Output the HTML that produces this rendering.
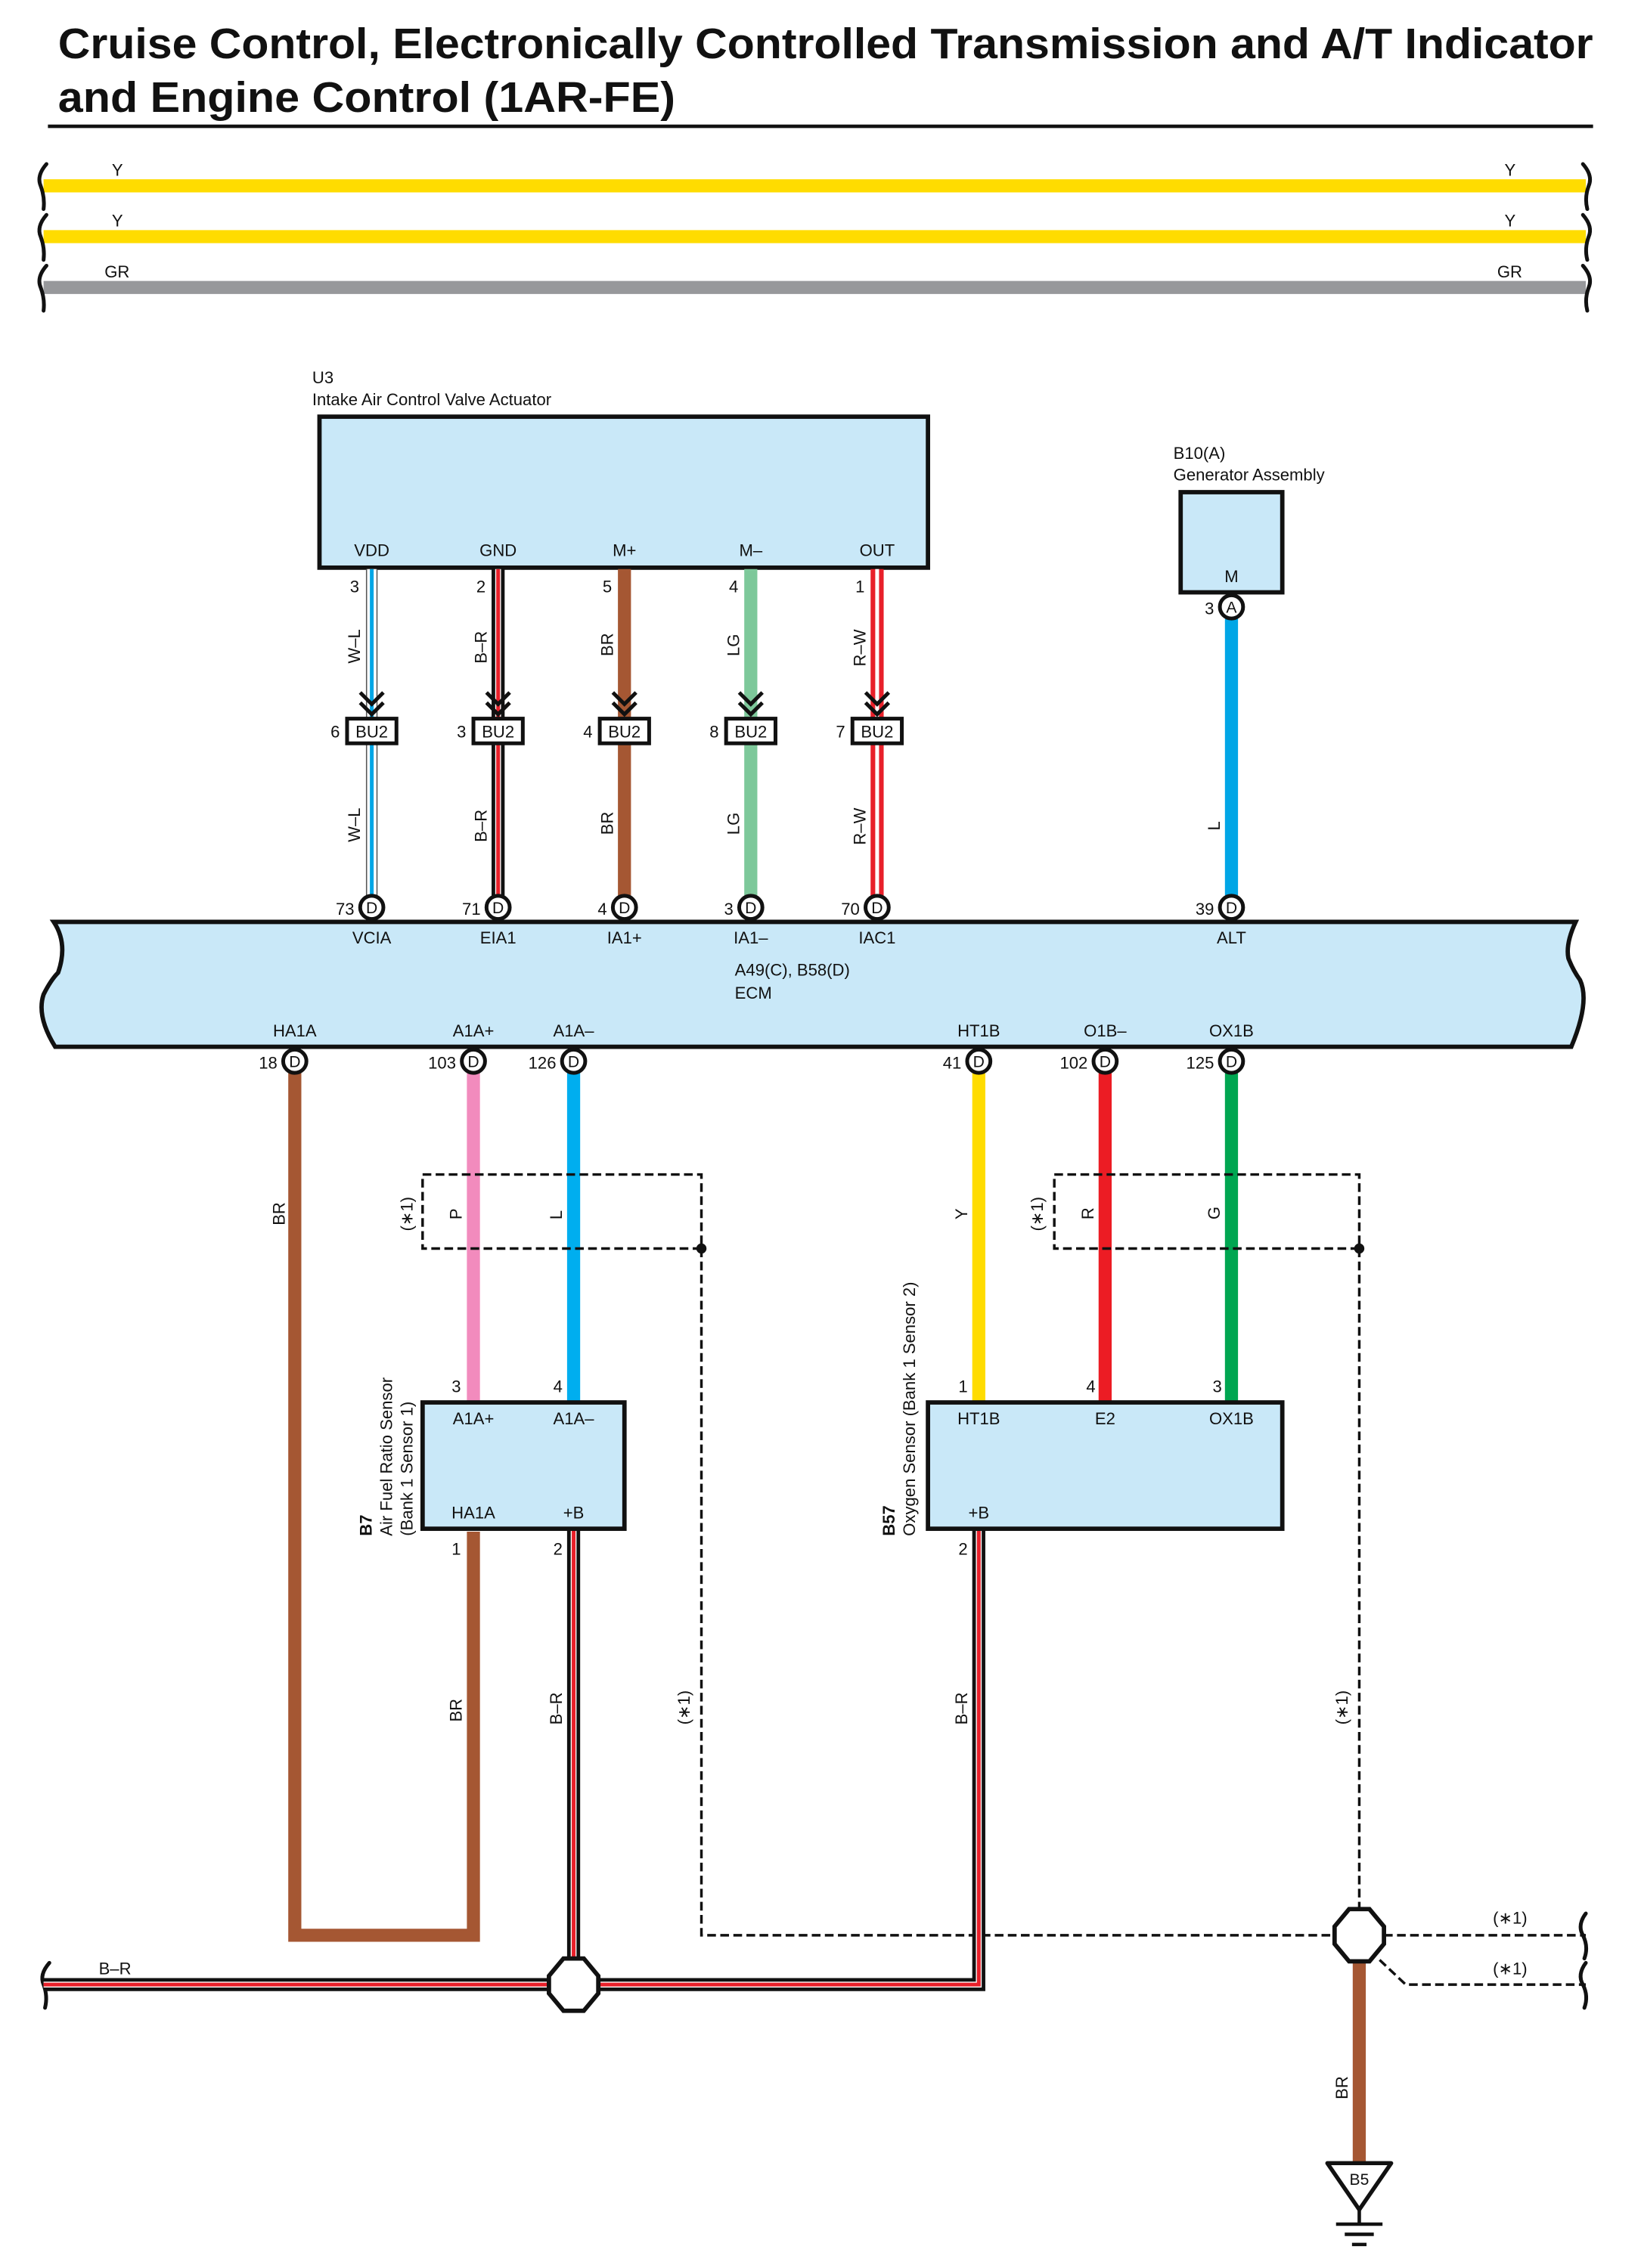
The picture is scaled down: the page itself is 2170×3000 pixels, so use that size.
<!DOCTYPE html>
<html><head><meta charset="utf-8"><style>
html,body{margin:0;padding:0;background:#fff}
svg{display:block}
text{font-family:"Liberation Sans",sans-serif;fill:#111}
</style></head><body>
<svg width="2170" height="3000" viewBox="0 0 1130 1562.2" xmlns="http://www.w3.org/2000/svg">
<defs>
<g id="chev"><path d="M-8,-12 L0,-4 L8,-12 M-8,-5 L0,3 L8,-5" fill="none" stroke="#111" stroke-width="2.6"/></g>
</defs>
<!-- title -->
<text x="40" y="40" font-size="29.5" font-weight="bold" textLength="1057" lengthAdjust="spacingAndGlyphs">Cruise Control, Electronically Controlled Transmission and A/T Indicator</text>
<text x="40" y="77" font-size="29.5" font-weight="bold" textLength="425" lengthAdjust="spacingAndGlyphs">and Engine Control (1AR-FE)</text>
<line x1="33" y1="87" x2="1097" y2="87" stroke="#111" stroke-width="2.4"/>

<!-- top wires -->
<g stroke-width="9">
<line x1="30" y1="128" x2="1092" y2="128" stroke="#ffdc00"/>
<line x1="30" y1="163" x2="1092" y2="163" stroke="#ffdc00"/>
<line x1="30" y1="198" x2="1092" y2="198" stroke="#97989b"/>
</g>
<g font-size="11.5"><text x="77" y="121">Y</text><text x="1036" y="121">Y</text>
<text x="77" y="156">Y</text><text x="1036" y="156">Y</text>
<text x="72" y="191">GR</text><text x="1031" y="191">GR</text></g>
<g fill="none" stroke="#111" stroke-width="2.6" stroke-linecap="round">
<path d="M32,113 Q25,121 28,128 Q31,136 30,144"/>
<path d="M32,148 Q25,156 28,163 Q31,171 30,179"/>
<path d="M32,183 Q25,191 28,198 Q31,206 30,214"/>
<path d="M1090,113 Q1097,121 1094,128 Q1091,136 1093,144"/>
<path d="M1090,148 Q1097,156 1094,163 Q1091,171 1093,179"/>
<path d="M1090,183 Q1097,191 1094,198 Q1091,206 1093,214"/>
</g>

<!-- U3 -->
<text x="215" y="264" font-size="11.5">U3</text>
<text x="215" y="279" font-size="11.5">Intake Air Control Valve Actuator</text>
<rect x="220" y="287" width="419" height="104" fill="#c9e8f8" stroke="#111" stroke-width="3"/>
<g font-size="11.5" text-anchor="middle">
<text x="256" y="383">VDD</text><text x="343" y="383">GND</text><text x="430" y="383">M+</text><text x="517" y="383">M–</text><text x="604" y="383">OUT</text>
</g>

<!-- U3 wires -->
<g>
<line x1="256" y1="392" x2="256" y2="618" stroke="#555" stroke-width="8"/>
<line x1="256" y1="392" x2="256" y2="618" stroke="#fff" stroke-width="6.4"/>
<line x1="256" y1="392" x2="256" y2="618" stroke="#00a6e6" stroke-width="2.6"/>
</g>
<g>
<line x1="343" y1="392" x2="343" y2="618" stroke="#111" stroke-width="9"/>
<line x1="343" y1="392" x2="343" y2="618" stroke="#fff" stroke-width="4"/>
<line x1="343" y1="392" x2="343" y2="618" stroke="#e8202a" stroke-width="2.6"/>
</g>
<line x1="430" y1="392" x2="430" y2="618" stroke="#a55733" stroke-width="9"/>
<line x1="517" y1="392" x2="517" y2="618" stroke="#7dc89a" stroke-width="9"/>
<g>
<line x1="604" y1="392" x2="604" y2="618" stroke="#e8202a" stroke-width="9"/>
<line x1="604" y1="392" x2="604" y2="618" stroke="#fff" stroke-width="2.6"/>
</g>
<g font-size="11.5">
<text x="241" y="408">3</text><text x="328" y="408">2</text><text x="415" y="408">5</text><text x="502" y="408">4</text><text x="589" y="408">1</text>
</g>
<g font-size="11.5">
<text transform="translate(248,457) rotate(-90)">W–L</text>
<text transform="translate(335,457) rotate(-90)">B–R</text>
<text transform="translate(422,452) rotate(-90)">BR</text>
<text transform="translate(509,452) rotate(-90)">LG</text>
<text transform="translate(596,459) rotate(-90)">R–W</text>
<text transform="translate(248,580) rotate(-90)">W–L</text>
<text transform="translate(335,580) rotate(-90)">B–R</text>
<text transform="translate(422,575) rotate(-90)">BR</text>
<text transform="translate(509,575) rotate(-90)">LG</text>
<text transform="translate(596,582) rotate(-90)">R–W</text>
</g>
<g>
<use href="#chev" x="256" y="489"/><use href="#chev" x="343" y="489"/><use href="#chev" x="430" y="489"/><use href="#chev" x="517" y="489"/><use href="#chev" x="604" y="489"/>
</g>
<g fill="#fff" stroke="#111" stroke-width="2.6">
<rect x="239" y="495" width="34" height="17"/><rect x="326" y="495" width="34" height="17"/><rect x="413" y="495" width="34" height="17"/><rect x="500" y="495" width="34" height="17"/><rect x="587" y="495" width="34" height="17"/>
</g>
<g font-size="11.5" text-anchor="middle">
<text x="256" y="508">BU2</text><text x="343" y="508">BU2</text><text x="430" y="508">BU2</text><text x="517" y="508">BU2</text><text x="604" y="508">BU2</text>
</g>
<g font-size="11.5" text-anchor="end">
<text x="234" y="508">6</text><text x="321" y="508">3</text><text x="408" y="508">4</text><text x="495" y="508">8</text><text x="582" y="508">7</text>
</g>

<!-- B10 -->
<text x="808" y="316" font-size="11.5">B10(A)</text>
<text x="808" y="331" font-size="11.5">Generator Assembly</text>
<rect x="813" y="339" width="70" height="69" fill="#c9e8f8" stroke="#111" stroke-width="3"/>
<text x="848" y="401" font-size="11.5" text-anchor="middle">M</text>
<line x1="848" y1="420" x2="848" y2="618" stroke="#00a6e6" stroke-width="9"/>
<text transform="translate(840,572) rotate(-90)" font-size="11.5">L</text>

<!-- ECM -->
<path d="M37,635 L1085,635 Q1078,650 1080,660 Q1083,668 1088,675 Q1095,690 1082,721 L38,721 Q25,700 30,685 Q35,675 40,670 Q47,650 37,635 Z" fill="#c9e8f8" stroke="#111" stroke-width="3"/>
<g font-size="11.5" text-anchor="middle">
<text x="256" y="650">VCIA</text><text x="343" y="650">EIA1</text><text x="430" y="650">IA1+</text><text x="517" y="650">IA1–</text><text x="604" y="650">IAC1</text><text x="848" y="650">ALT</text>
<text x="203" y="714">HA1A</text><text x="326" y="714">A1A+</text><text x="395" y="714">A1A–</text><text x="674" y="714">HT1B</text><text x="761" y="714">O1B–</text><text x="848" y="714">OX1B</text>
</g>
<text x="506" y="672" font-size="11.5">A49(C), B58(D)</text>
<text x="506" y="688" font-size="11.5">ECM</text>

<!-- lower wires -->
<path d="M203,738 L203,1333 L326,1333 L326,1055" fill="none" stroke="#a55733" stroke-width="9"/>
<line x1="326" y1="738" x2="326" y2="966" stroke="#f28bbd" stroke-width="9"/>
<line x1="395" y1="738" x2="395" y2="966" stroke="#00aeef" stroke-width="9"/>
<line x1="674" y1="738" x2="674" y2="966" stroke="#ffdc00" stroke-width="9"/>
<line x1="761" y1="738" x2="761" y2="966" stroke="#ec1c24" stroke-width="9"/>
<line x1="848" y1="738" x2="848" y2="966" stroke="#00a651" stroke-width="9"/>
<g font-size="11.5">
<text transform="translate(196,844) rotate(-90)">BR</text>
<text transform="translate(318,840) rotate(-90)">P</text>
<text transform="translate(387,840) rotate(-90)">L</text>
<text transform="translate(666,840) rotate(-90)">Y</text>
<text transform="translate(753,840) rotate(-90)">R</text>
<text transform="translate(840,840) rotate(-90)">G</text>
<text transform="translate(284,848) rotate(-90)">(∗1)</text>
<text transform="translate(718,848) rotate(-90)">(∗1)</text>
<text transform="translate(318,1186) rotate(-90)">BR</text>
<text transform="translate(387,1188) rotate(-90)">B–R</text>
<text transform="translate(666,1188) rotate(-90)">B–R</text>
<text transform="translate(475,1188) rotate(-90)">(∗1)</text>
<text transform="translate(928,1188) rotate(-90)">(∗1)</text>
<text transform="translate(928,1446) rotate(-90)">BR</text>
</g>
<g fill="none" stroke="#111" stroke-width="1.8" stroke-dasharray="6,3">
<path d="M483,860 L291,860 L291,809 L483,809 L483,1333 L920,1333"/>
<path d="M936,860 L726,860 L726,809 L936,809 L936,1316"/>
<path d="M953,1333 L1092,1333"/>
<path d="M950,1350 L968,1367 L1092,1367"/>
</g>
<circle cx="483" cy="860" r="3.5" fill="#111"/><circle cx="936" cy="860" r="3.5" fill="#111"/>
<g font-size="11.5"><text x="1028" y="1325">(∗1)</text><text x="1028" y="1360">(∗1)</text></g>
<g fill="none" stroke="#111" stroke-width="2.6" stroke-linecap="round">
<path d="M1092,1318 Q1086,1326 1090,1333 Q1094,1341 1091,1349"/>
<path d="M1092,1352 Q1086,1360 1090,1367 Q1094,1375 1091,1383"/>
<path d="M34,1352 Q27,1360 30,1367 Q33,1375 31,1383"/>
</g>

<!-- B-R harness -->
<g fill="none">
<path d="M30,1367 L674,1367 L674,1053" stroke="#111" stroke-width="9"/>
<path d="M30,1367 L674,1367 L674,1053" stroke="#fff" stroke-width="4"/>
<path d="M30,1367 L674,1367 L674,1053" stroke="#e8202a" stroke-width="2.6"/>
<path d="M395,1053 L395,1367" stroke="#111" stroke-width="9"/>
<path d="M395,1053 L395,1367" stroke="#fff" stroke-width="4"/>
<path d="M395,1053 L395,1367" stroke="#e8202a" stroke-width="2.6"/>
</g>
<text x="68" y="1360" font-size="11.5">B–R</text>

<!-- sensor boxes -->
<rect x="291" y="966" width="139" height="87" fill="#c9e8f8" stroke="#111" stroke-width="3"/>
<rect x="639" y="966" width="244" height="87" fill="#c9e8f8" stroke="#111" stroke-width="3"/>
<g font-size="11.5" text-anchor="middle">
<text x="326" y="981">A1A+</text><text x="395" y="981">A1A–</text><text x="326" y="1046">HA1A</text><text x="395" y="1046">+B</text>
<text x="674" y="981">HT1B</text><text x="761" y="981">E2</text><text x="848" y="981">OX1B</text><text x="674" y="1046">+B</text>
</g>
<g font-size="11.5">
<text x="311" y="959">3</text><text x="381" y="959">4</text><text x="311" y="1071">1</text><text x="381" y="1071">2</text>
<text x="660" y="959">1</text><text x="748" y="959">4</text><text x="835" y="959">3</text><text x="660" y="1071">2</text>
</g>
<g font-size="11.5">
<text transform="translate(256,1058) rotate(-90)" font-weight="bold">B7</text>
<text transform="translate(270,1058) rotate(-90)">Air Fuel Ratio Sensor</text>
<text transform="translate(284,1058) rotate(-90)">(Bank 1 Sensor 1)</text>
<text transform="translate(616,1058) rotate(-90)" font-weight="bold">B57</text>
<text transform="translate(630,1058) rotate(-90)">Oxygen Sensor (Bank 1 Sensor 2)</text>
</g>

<!-- ground -->
<line x1="936" y1="1350" x2="936" y2="1490" stroke="#a55733" stroke-width="9"/>
<path d="M914,1490 L958,1490 L936,1522 Z" fill="#fff" stroke="#111" stroke-width="2.8" stroke-linejoin="round"/>
<text x="936" y="1505" font-size="11" text-anchor="middle">B5</text>
<g stroke="#111" stroke-width="2.4"><line x1="936" y1="1522" x2="936" y2="1532"/><line x1="920" y1="1532" x2="952" y2="1532"/><line x1="926" y1="1539" x2="946" y2="1539"/><line x1="931" y1="1546" x2="941" y2="1546"/></g>

<!-- octagons -->
<polygon points="388,1349 402,1349 412,1361 412,1373 402,1385 388,1385 378,1373 378,1361" fill="#fff" stroke="#111" stroke-width="3"/>
<polygon points="929,1315 943,1315 953,1327 953,1339 943,1351 929,1351 919,1339 919,1327" fill="#fff" stroke="#111" stroke-width="3"/>

<!-- pin circles -->
<g fill="#fff" stroke="#111" stroke-width="2.6">
<circle cx="256" cy="625" r="8"/><circle cx="343" cy="625" r="8"/><circle cx="430" cy="625" r="8"/><circle cx="517" cy="625" r="8"/><circle cx="604" cy="625" r="8"/><circle cx="848" cy="625" r="8"/>
<circle cx="848" cy="418" r="8"/>
<circle cx="203" cy="731" r="8"/><circle cx="326" cy="731" r="8"/><circle cx="395" cy="731" r="8"/><circle cx="674" cy="731" r="8"/><circle cx="761" cy="731" r="8"/><circle cx="848" cy="731" r="8"/>
</g>
<g font-size="11" text-anchor="middle">
<text x="256" y="629">D</text><text x="343" y="629">D</text><text x="430" y="629">D</text><text x="517" y="629">D</text><text x="604" y="629">D</text><text x="848" y="629">D</text>
<text x="848" y="422">A</text>
<text x="203" y="735">D</text><text x="326" y="735">D</text><text x="395" y="735">D</text><text x="674" y="735">D</text><text x="761" y="735">D</text><text x="848" y="735">D</text>
</g>
<g font-size="11.5" text-anchor="end">
<text x="244" y="630">73</text><text x="331" y="630">71</text><text x="418" y="630">4</text><text x="505" y="630">3</text><text x="592" y="630">70</text><text x="836" y="630">39</text>
<text x="836" y="423">3</text>
<text x="191" y="736">18</text><text x="314" y="736">103</text><text x="383" y="736">126</text><text x="662" y="736">41</text><text x="749" y="736">102</text><text x="836" y="736">125</text>
</g>
</svg>
</body></html>
